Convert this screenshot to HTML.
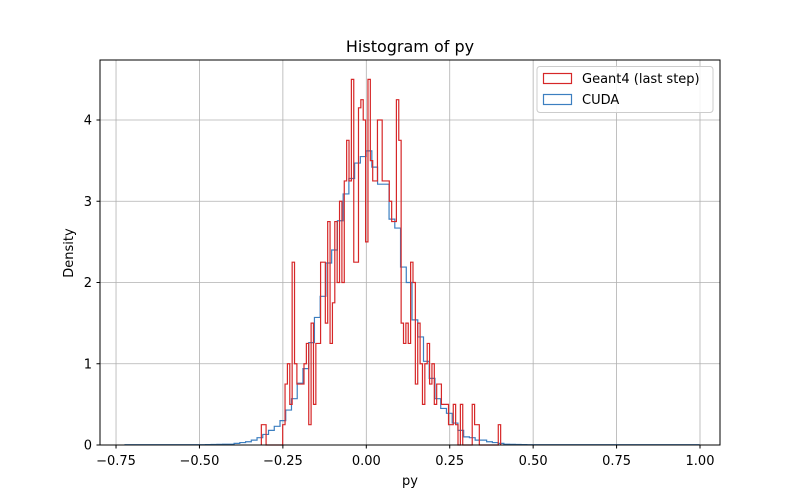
<!DOCTYPE html>
<html><head><meta charset="utf-8"><style>
body{margin:0;background:#fff}
svg{display:block;font-family:"DejaVu Sans","Liberation Sans",sans-serif}
</style></head><body>
<svg id="c" width="800" height="500" viewBox="0 0 800 500">
<rect width="800" height="500" fill="#fff"/>
<g id="grid"></g>
<g id="series"></g>
<rect x="100" y="60" width="620" height="385" fill="none" stroke="#000" stroke-width="1"/>
<g id="ticks"></g>
<text x="410" y="52" text-anchor="middle" font-size="16">Histogram of py</text>
<text x="410" y="485" text-anchor="middle" font-size="13">py</text>
<text x="73" y="253" text-anchor="middle" font-size="13" transform="rotate(-90 73 253)">Density</text>
<g>
<rect x="537" y="66.5" width="176" height="46" rx="3" fill="#fff" fill-opacity="0.85" stroke="#ccc"/>
<g>
<rect x="543.5" y="73.5" width="28" height="10" fill="none" stroke="#d62728" stroke-width="1.2"/>
<text x="582" y="83" font-size="13">Geant4 (last step)</text></g>
<g>
<rect x="543.5" y="94.5" width="28" height="10" fill="none" stroke="#3c7fc0" stroke-width="1.2"/>
<text x="582" y="104" font-size="13">CUDA</text></g>
</g>
</svg>
<script>
const xTicks=[-0.75,-0.5,-0.25,0,0.25,0.5,0.75,1.0];
const xTickLabels=["−0.75","−0.50","−0.25","0.00","0.25","0.50","0.75","1.00"];
const yTicks=[0,1,2,3,4];
const yTickLabels=["0","1","2","3","4"];
const redStart=-0.3145, redWidth=0.0071;
const redValues=[0.25,0.25,0,0,0,0,0,0,0,0.25,0.75,1.0,0.5,2.25,1.0,0.75,0.75,0.75,1.0,1.25,0.25,1.5,0.5,1.25,1.25,2.25,2.25,1.5,2.75,1.25,1.75,2.75,2.0,3.0,2.0,3.25,3.75,3.25,4.5,2.25,2.25,4.15,4.25,4.0,2.5,4.5,3.5,3.25,3.25,4.0,4.0,3.25,3.25,3.25,3.0,2.75,2.75,4.25,3.75,1.5,1.25,1.5,1.25,2.25,2.0,0.75,1.5,1.0,0.5,1.0,1.25,0.75,1.0,0.5,0.75,0.75,0.5,0.5,0.5,0.25,0.25,0.5,0.25,0,0.5,0,0,0,0,0.5,0.25,0.25,0,0,0,0,0,0,0,0,0.25];
const blueStart=-0.723, blueWidth=0.0172;
const blueValues=[0.003,0.003,0.003,0.003,0.003,0.003,0.003,0.003,0.003,0.003,0.003,0.003,0.003,0.004,0.005,0.006,0.008,0.01,0.01,0.02,0.03,0.04,0.06,0.09,0.13,0.18,0.23,0.3,0.43,0.57,0.76,0.94,1.26,1.57,1.83,2.24,2.4,2.76,3.09,3.28,3.47,3.55,3.62,3.42,3.21,3.21,2.78,2.67,2.19,2.0,1.54,1.33,1.03,0.82,0.57,0.45,0.39,0.27,0.18,0.1,0.09,0.06,0.06,0.04,0.03,0.02,0.01,0.008,0.006,0.005,0.004,0.003,0.003,0.003,0.003,0.003,0.003,0.003,0.003,0.003,0.003,0.003,0.003,0.003,0.003,0.003,0.003,0.003,0.003,0.003,0.003,0.003,0.003,0.003,0.003,0.003,0.003,0.003,0.003,0.003];
const NS='http://www.w3.org/2000/svg';
const X=v=>366.3+v*333.7;
const Y=v=>445-v*81.25;
function mk(tag,attrs,parent){const e=document.createElementNS(NS,tag);for(const k in attrs)e.setAttribute(k,attrs[k]);parent.appendChild(e);return e;}
const grid=document.getElementById('grid'),ticks=document.getElementById('ticks'),series=document.getElementById('series');
xTicks.forEach((t,i)=>{
  const g=mk('line',{x1:X(t),x2:X(t),y1:60,y2:445,stroke:'#b0b0b0','stroke-width':0.8},grid);
  
  
  mk('line',{x1:X(t),x2:X(t),y1:445,y2:448.5,stroke:'#000'},ticks);
  const l=mk('text',{x:X(t),y:465,'text-anchor':'middle','font-size':13},ticks);
  l.textContent=xTickLabels[i];
  
  
});
yTicks.forEach((t,i)=>{
  const g=mk('line',{x1:100,x2:720,y1:Y(t),y2:Y(t),stroke:'#b0b0b0','stroke-width':0.8},grid);
  
  
  mk('line',{x1:96.5,x2:100,y1:Y(t),y2:Y(t),stroke:'#000'},ticks);
  const l=mk('text',{x:92,y:Y(t)+4.5,'text-anchor':'end','font-size':13},ticks);
  l.textContent=yTickLabels[i];
  
  
});
function stepPath(start,w,vals){
  let d='M'+X(start)+','+Y(0);
  vals.forEach((v,i)=>{const a=X(start+i*w),b=X(start+(i+1)*w);d+=' L'+a+','+Y(v)+' L'+b+','+Y(v);});
  d+=' L'+X(start+vals.length*w)+','+Y(0);
  return d;
}
const bp=mk('path',{d:stepPath(blueStart,blueWidth,blueValues),fill:'none',stroke:'#3c7fc0','stroke-width':1.2},series);


const rp=mk('path',{d:stepPath(redStart,redWidth,redValues),fill:'none',stroke:'#d62728','stroke-width':1.2},series);


</script>
</body></html>
